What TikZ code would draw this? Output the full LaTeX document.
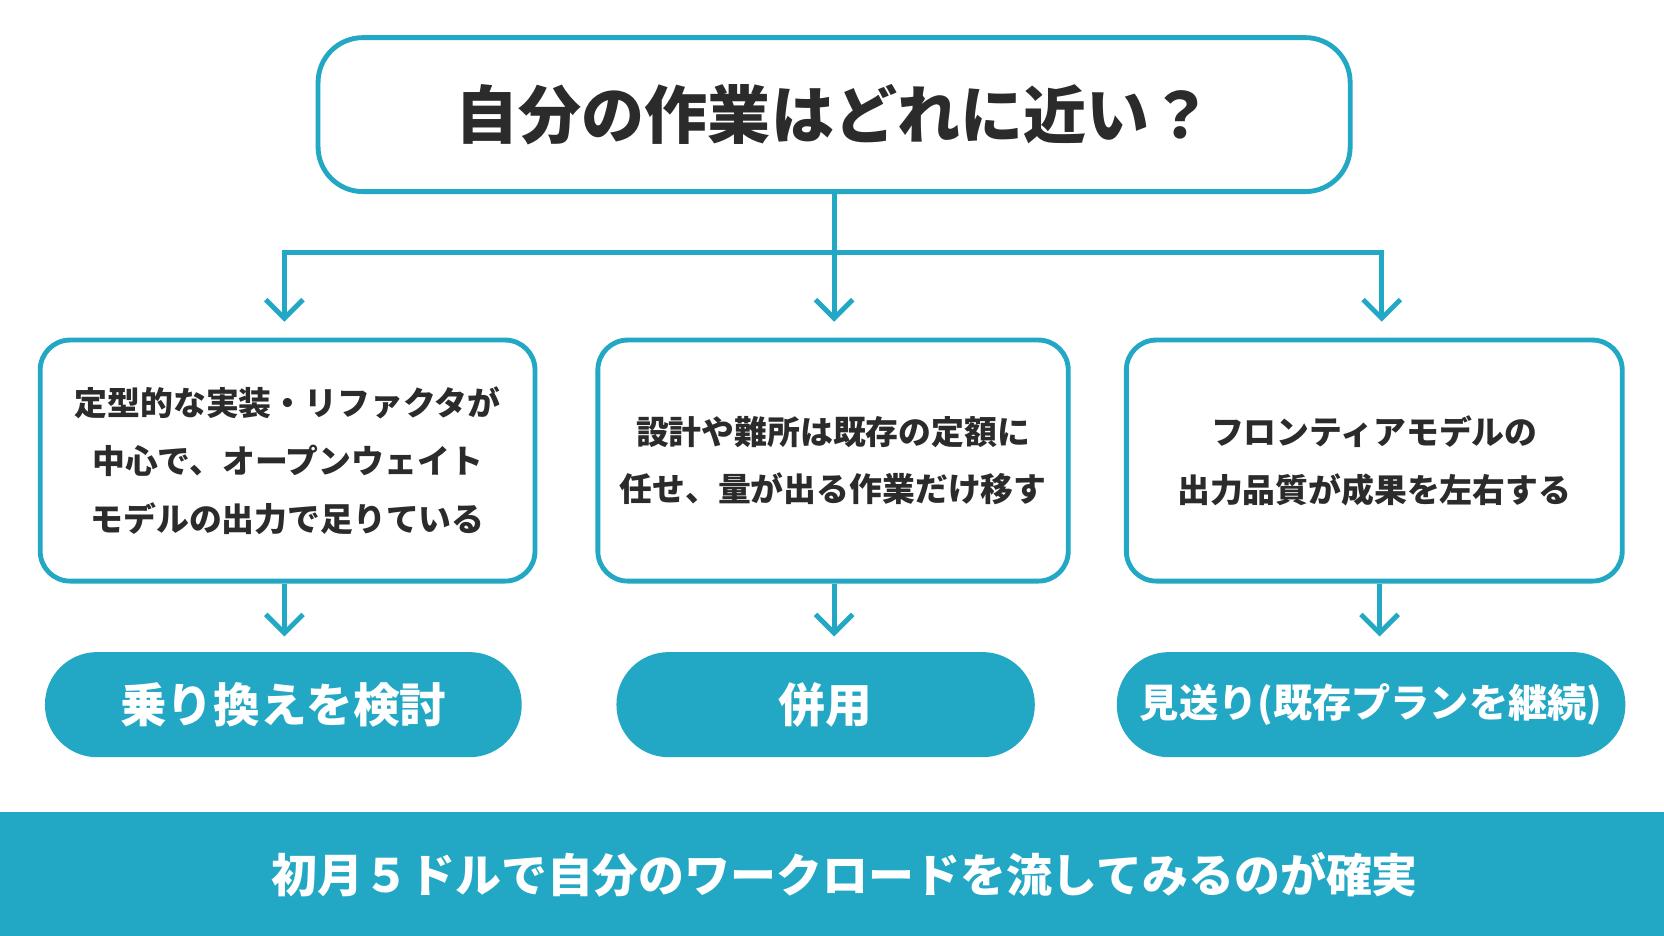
\documentclass[tikz,border=0pt]{standalone}
\usepackage{fontspec}
\usetikzlibrary{arrows.meta}
\newfontfamily\cjk{Noto Sans CJK JP}
\definecolor{teal1}{HTML}{22A8C4}
\definecolor{ink}{HTML}{2B2B2B}
\begin{document}
\begin{tikzpicture}[x=0.01cm,y=-0.01cm,
	box/.style={draw=teal1,line width=1.3pt,rounded corners=8pt,font=\cjk\bfseries\fontsize{8.8}{15.5}\selectfont,text=ink,align=center},
	pill/.style={fill=teal1,rounded corners=14pt,font=\cjk\bfseries\fontsize{12.5}{14}\selectfont,text=white},
	arr/.style={draw=teal1,line width=1.3pt,->,>={Straight Barb[length=5pt,width=10pt]}}]
		\useasboundingbox (0,0) rectangle (1568,882);
		\fill[white] (0,0) rectangle (1568,882);
		% question
		\node[box,minimum width=9.72cm,minimum height=1.45cm,rounded corners=12pt,font=\cjk\bfseries\fontsize{16.9}{18}\selectfont] (q) at (786,108) {自分の作業はどれに近い？};
		% cases
		\node[box,minimum width=4.66cm,minimum height=2.27cm] (c1) at (271,434) {定型的な実装・リファクタが\\中心で、オープンウェイト\\モデルの出力で足りている};
		\node[box,minimum width=4.43cm,minimum height=2.27cm] (c2) at (785,434) {設計や難所は既存の定額に\\任せ、量が出る作業だけ移す};
		\node[box,minimum width=4.67cm,minimum height=2.27cm] (c3) at (1295,434) {フロンティアモデルの\\出力品質が成果を左右する};
		% answers
		\node[pill,minimum width=4.49cm,minimum height=0.99cm] (a1) at (267,664) {乗り換えを検討};
		\node[pill,minimum width=3.94cm,minimum height=0.99cm] (a2) at (778,664) {併用};
		\node[pill,minimum width=4.79cm,minimum height=0.99cm,font=\cjk\bfseries\fontsize{10.5}{14}\selectfont] (a3) at (1292,664) {見送り(既存プランを継続)};
		\coordinate (j) at (786,238);
		\draw[teal1,line width=1.3pt] (q.south) -- (j);
		\draw[arr] (j) -| ([yshift=0.15cm]c1.north-|268,0);
		\draw[arr] (j) -- ([yshift=0.15cm]c2.north-|786,0);
		\draw[arr] (j) -| ([yshift=0.15cm]c3.north-|1302,0);
		\draw[arr] (c1.south-|268,0) -- ([yshift=0.14cm]a1.north-|268,0);
		\draw[arr] (c2.south-|786,0) -- ([yshift=0.14cm]a2.north-|786,0);
		\draw[arr] (c3.south-|1300,0) -- ([yshift=0.14cm]a3.north-|1300,0);
		% footer
		\fill[teal1] (0,765) rectangle (1568,882);
		\node[font=\cjk\bfseries\fontsize{12.3}{16}\selectfont,text=white] (f) at (796,824) {初月５ドルで自分のワークロードを流してみるのが確実};
\end{tikzpicture}
\end{document}
